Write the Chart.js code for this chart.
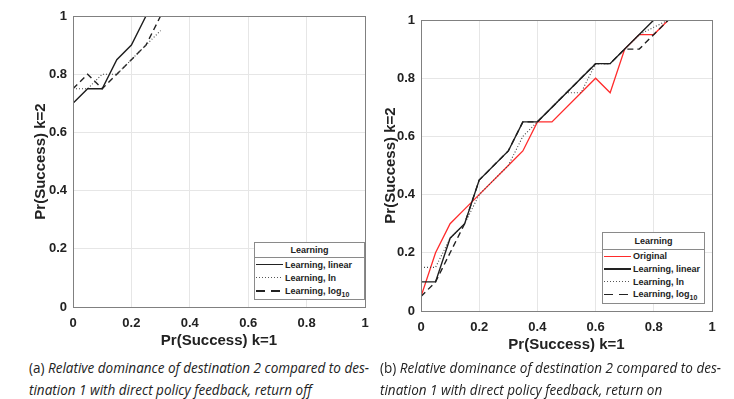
<!DOCTYPE html>
<html>
<head>
<meta charset="utf-8">
<script src="https://cdn.jsdelivr.net/npm/chart.js@4.4.1/dist/chart.umd.min.js"></script>
<style>
  body { margin: 0; background: #fff; width: 734px; height: 399px; position: relative; overflow: hidden; }
  canvas { position: absolute; top: 0; }
  .legend { position: absolute; background: #fff; border: 1px solid #8a8a8a; box-sizing: border-box;
            font: bold 9px "Liberation Sans", Arial, sans-serif; color: #222; }
  .legend .lt { text-align: center; border-bottom: 1px solid #8a8a8a; }
  .legend .row { display: flex; align-items: center; white-space: nowrap; }
  .legend .smp { display: inline-block; width: 27px; height: 2px; margin: 0 2px 0 1px; flex: none; }
  .legend .sub { font-size: 7px; position: relative; top: 3px; }
  .smp.red { background: #ff2b2b; height: 1.5px; }
  .smp.solid { background: #222; height: 1.5px; }
  .smp.dot { background: repeating-linear-gradient(90deg, #555 0 1px, transparent 1px 3px); height: 1px; }
  .smp.dash { background: repeating-linear-gradient(90deg, #222 0 9px, transparent 9px 15px); height: 1.5px; }
  .cap { position: absolute; font: 14px "Open Sans", "Noto Sans", sans-serif; line-height: 22px; color: #222; }
  .cap span { display: inline-block; white-space: nowrap; transform-origin: 0 50%; }
  .cap i { font-style: italic; }
</style>
</head>
<body>
<canvas id="off" width="380" height="356" style="left:0"></canvas>
<canvas id="on" width="364" height="356" style="left:370px"></canvas>

<div class="legend" style="left:254px;top:242px;width:111px;height:58px">
  <div class="lt" style="height:14px;line-height:14px">Learning</div>
  <div class="row" style="height:13.3px"><span class="smp solid"></span>Learning, linear</div>
  <div class="row" style="height:13.3px"><span class="smp dot"></span>Learning, ln</div>
  <div class="row" style="height:13.3px"><span class="smp dash"></span><span>Learning, log</span><span class="sub">10</span></div>
</div>

<div class="legend" style="left:602px;top:232px;width:103px;height:72px">
  <div class="lt" style="height:16px;line-height:16px">Learning</div>
  <div class="row" style="height:12.7px"><span class="smp red"></span>Original</div>
  <div class="row" style="height:12.7px"><span class="smp solid"></span>Learning, linear</div>
  <div class="row" style="height:12.7px"><span class="smp dot"></span>Learning, ln</div>
  <div class="row" style="height:12.7px"><span class="smp dash"></span><span>Learning, log</span><span class="sub">10</span></div>
</div>

<div class="cap" style="left:29px;top:357px">
  <span class="l1" data-w="340">(a) <i>Relative dominance of destination 2 compared to des-</i></span><br>
  <span class="l2"><i>tination 1 with direct policy feedback, return off</i></span>
</div>
<div class="cap" style="left:380px;top:357px">
  <span class="l1" data-w="341">(b) <i>Relative dominance of destination 2 compared to des-</i></span><br>
  <span class="l2"><i>tination 1 with direct policy feedback, return on</i></span>
</div>

<script>
// axis ticks (both axes, both panels)
const tickVals = [0, 0.2, 0.4, 0.6, 0.8, 1];

// (a) return off
const offLinearX = [0, 0.05, 0.1, 0.15, 0.2, 0.25];
const offLinearY = [0.7, 0.75, 0.75, 0.85, 0.9, 1];
const offLnX = [0, 0.05, 0.1, 0.15, 0.2, 0.25, 0.3];
const offLnY = [0.75, 0.75, 0.8, 0.8, 0.85, 0.9, 0.95];
const offLogX = [0, 0.05, 0.1, 0.15, 0.2, 0.25, 0.3];
const offLogY = [0.75, 0.8, 0.75, 0.8, 0.85, 0.9, 1];

// (b) return on
const onOrigX = [0, 0.05, 0.1, 0.15, 0.2, 0.3, 0.35, 0.4, 0.45, 0.6, 0.65, 0.7, 0.75, 0.8, 0.85];
const onOrigY = [0.05, 0.2, 0.3, 0.35, 0.4, 0.5, 0.55, 0.65, 0.65, 0.8, 0.75, 0.9, 0.95, 0.95, 1];
const onLinearX = [0, 0.05, 0.1, 0.15, 0.2, 0.3, 0.35, 0.4, 0.6, 0.65, 0.7, 0.8];
const onLinearY = [0.1, 0.1, 0.25, 0.3, 0.45, 0.55, 0.65, 0.65, 0.85, 0.85, 0.9, 1];
const onLnX = [0, 0.05, 0.1, 0.15, 0.2, 0.3, 0.35, 0.4, 0.5, 0.55, 0.6, 0.65, 0.7, 0.75, 0.85];
const onLnY = [0.15, 0.15, 0.25, 0.3, 0.4, 0.5, 0.6, 0.65, 0.75, 0.75, 0.85, 0.85, 0.9, 0.95, 1];
const onLogX = [0, 0.05, 0.1, 0.15, 0.2, 0.3, 0.35, 0.4, 0.6, 0.65, 0.7, 0.75, 0.85];
const onLogY = [0.05, 0.1, 0.2, 0.3, 0.45, 0.55, 0.65, 0.65, 0.85, 0.85, 0.9, 0.9, 1];

Chart.defaults.font.family = "'Liberation Sans', Arial, Helvetica, sans-serif";
Chart.defaults.color = '#222';

const pts = (xs, ys) => xs.map((x, i) => ({ x: x, y: ys[i] }));

const styles = {
  orig:   { borderColor: '#ff2b2b', borderWidth: 1.3 },
  linear: { borderColor: '#1e1e1e', borderWidth: 1.4 },
  ln:     { borderColor: '#444', borderWidth: 1.1, borderDash: [1, 2] },
  log:    { borderColor: '#222', borderWidth: 1.4, borderDash: [6, 4] }
};

// draws the top/right edges of the axes box
const boxPlugin = {
  id: 'box',
  afterDatasetsDraw(chart) {
    const { ctx, chartArea: a } = chart;
    ctx.save();
    ctx.strokeStyle = '#808080';
    ctx.lineWidth = 1;
    ctx.strokeRect(Math.round(a.left) + 0.5, Math.round(a.top) + 0.5,
                   Math.round(a.right - a.left), Math.round(a.bottom - a.top));
    ctx.restore();
  }
};

function makeChart(id, datasets, pad, yWidth, yTitlePad) {
  const axisBase = {
    type: 'linear',
    min: 0,
    max: 1,
    afterBuildTicks: s => { s.ticks = tickVals.map(v => ({ value: v })); },
    ticks: {
      padding: 6,
      color: '#222',
      font: { size: 13, weight: 'bold' },
      callback: v => String(Math.round(v * 10) / 10)
    },
    grid: { color: '#e6e6e6', drawTicks: false },
    border: { color: '#808080' }
  };
  return new Chart(document.getElementById(id), {
    type: 'line',
    data: {
      datasets: datasets.map(d => Object.assign({
        data: pts(d.x, d.y),
        pointRadius: 0,
        tension: 0,
        fill: false
      }, styles[d.s]))
    },
    options: {
      responsive: false,
      animation: false,
      devicePixelRatio: 1,
      layout: { padding: pad },
      plugins: { legend: { display: false }, tooltip: { enabled: false } },
      scales: {
        x: Object.assign({}, axisBase, {
          ticks: Object.assign({}, axisBase.ticks, { padding: 9 }),
          title: { display: true, text: 'Pr(Success) k=1', color: '#222',
                   font: { size: 15, weight: 'bold' }, padding: { top: 0, bottom: 2 } },
          afterFit: s => { s.height = 45; }
        }),
        y: Object.assign({}, axisBase, {
          title: { display: true, text: 'Pr(Success) k=2', color: '#222',
                   font: { size: 15, weight: 'bold' }, padding: { top: yTitlePad, bottom: 0 } },
          afterFit: s => { s.width = yWidth; }
        })
      }
    },
    plugins: [boxPlugin]
  });
}

makeChart('off', [
  { s: 'linear', x: offLinearX, y: offLinearY },
  { s: 'ln', x: offLnX, y: offLnY },
  { s: 'log', x: offLogX, y: offLogY }
], { left: 0, top: 16, right: 15, bottom: 4 }, 73, 32);

makeChart('on', [
  { s: 'linear', x: onLinearX, y: onLinearY },
  { s: 'ln', x: onLnX, y: onLnY },
  { s: 'log', x: onLogX, y: onLogY },
  { s: 'orig', x: onOrigX, y: onOrigY }
], { left: 0, top: 20, right: 22, bottom: 0 }, 51, 12);

// squeeze caption lines to the column width (condensed look of the original)
document.fonts.ready.then(() => {
  document.querySelectorAll('.cap').forEach(cap => {
    const l1 = cap.querySelector('.l1');
    const k = Number(l1.dataset.w) / l1.getBoundingClientRect().width;
    cap.querySelectorAll('span').forEach(s => { s.style.transform = 'scaleX(' + k + ')'; });
  });
});
</script>
</body>
</html>
